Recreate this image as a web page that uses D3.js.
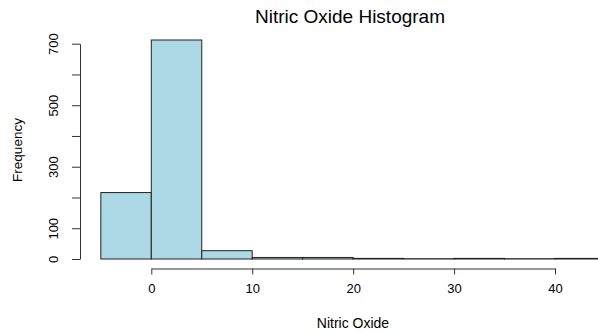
<!DOCTYPE html>
<html lang="en">
<head>
  <meta charset="utf-8">
  <title>Nitric Oxide Histogram</title>
  <script src="https://d3js.org/d3.v7.min.js"></script>
  <style>
    body { margin: 0; background: #fff; }
    text { font-family: "Liberation Sans", Arial, sans-serif; fill: #000; }
  </style>
</head>
<body>
  <div id="chart"></div>
  <script>
    // Histogram bins (width 5) and counts
    var binStarts = [-5, 0, 5, 10, 15, 20, 25, 30, 35, 40];
    var binWidth = 5;
    var counts = [216, 712, 27, 5, 5, 2, 1, 2, 1, 2];
    var xTicks = [0, 10, 20, 30, 40];
    var yTicks = [0, 100, 200, 300, 400, 500, 600, 700];
    var yLabels = [0, 100, 300, 500, 700];

    var width = 598, height = 333;

    var svg = d3.select("#chart").append("svg")
      .attr("width", width)
      .attr("height", height);

    var x = d3.scaleLinear().domain([0, 40]).range([151.3, 555]);
    var y = d3.scaleLinear().domain([0, 700]).range([259, 43.7]);

    // bars
    svg.append("g").selectAll("rect").data(binStarts).enter()
      .append("rect")
      .attr("x", d => x(d))
      .attr("width", d => x(d + binWidth) - x(d))
      .attr("y", (d, i) => y(counts[i]))
      .attr("height", (d, i) => y(0) - y(counts[i]))
      .attr("fill", "#ADD8E6")
      .attr("stroke", "#222")
      .attr("stroke-width", 1);

    // x axis
    var xAxis = svg.append("g")
      .attr("transform", "translate(0,268.5)")
      .call(d3.axisBottom(x).tickValues(xTicks).tickSize(6).tickPadding(9).tickSizeOuter(0));
    xAxis.select(".domain").attr("stroke", "#333");
    xAxis.selectAll(".tick line").attr("stroke", "#333");
    xAxis.selectAll("text").style("font-size", "13px");

    // y axis
    var yAxis = svg.append("g")
      .attr("transform", "translate(80,0)")
      .call(d3.axisLeft(y).tickValues(yTicks).tickSize(8).tickSizeOuter(0)
        .tickFormat(d => yLabels.indexOf(d) >= 0 ? d : ""));
    yAxis.select(".domain").attr("stroke", "#333");
    yAxis.selectAll(".tick line").attr("stroke", "#333");
    yAxis.selectAll(".tick text")
      .attr("x", 0).attr("dy", null)
      .attr("transform", "translate(-27,0) rotate(-90)")
      .attr("text-anchor", "middle")
      .attr("dominant-baseline", "central")
      .style("font-size", "13px");

    // titles
    svg.append("text")
      .attr("x", 350).attr("y", 22.5)
      .attr("text-anchor", "middle")
      .style("font-size", "19px")
      .text("Nitric Oxide Histogram");

    svg.append("text")
      .attr("x", 353).attr("y", 328)
      .attr("text-anchor", "middle")
      .style("font-size", "14px")
      .text("Nitric Oxide");

    svg.append("text")
      .attr("transform", "translate(22,150) rotate(-90)")
      .attr("text-anchor", "middle")
      .style("font-size", "13.5px")
      .text("Frequency");
  </script>
</body>
</html>
